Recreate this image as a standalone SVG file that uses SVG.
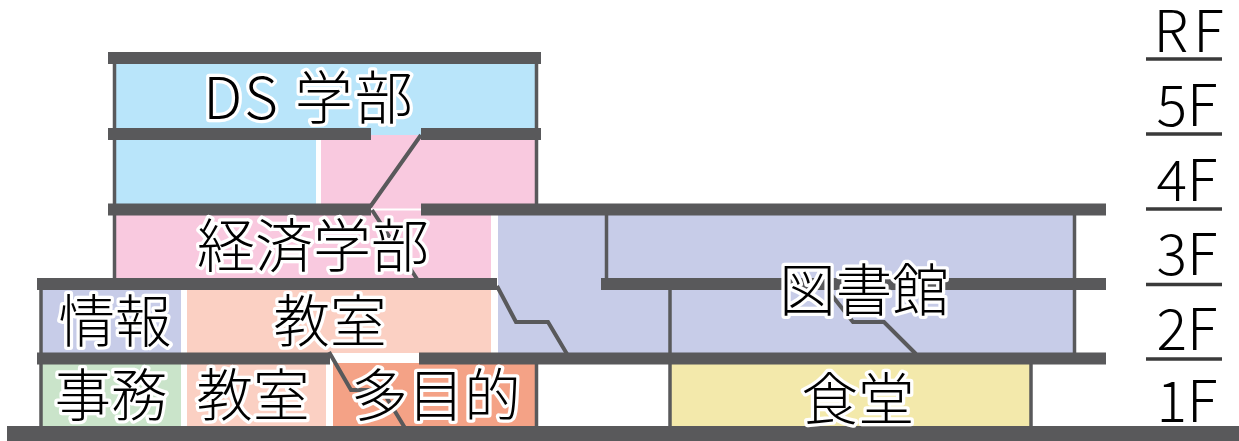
<svg xmlns="http://www.w3.org/2000/svg" width="1239" height="441" viewBox="0 0 1239 441">
<style>
.slab{fill:#59595b}
.wall{stroke:#59595b;stroke-width:3.500;fill:none}
.stair{stroke:#59595b;stroke-width:4;fill:none}
.floorline{stroke:#3a3a3a;stroke-width:3.500}
text{font-family:"Noto Sans CJK JP","Noto Sans",sans-serif;font-weight:300;font-size:56.500px;fill:#000;stroke:#fff;stroke-width:6.500px;stroke-linejoin:round;paint-order:stroke;text-anchor:middle}
.wide{font-size:58px}
.floor{stroke-width:3px;font-size:57px}
</style>
<rect width="1239" height="441" fill="#fff"/>
<g id="rooms">
<rect id="ds5" x="116" y="64" width="419" height="71" fill="#b9e5fa"/>
<rect id="ds4" x="116" y="135" width="200" height="70" fill="#b9e5fa"/>
<rect id="econ4" x="321" y="135" width="214" height="70" fill="#f9c9df"/>
<rect id="econ3" x="116" y="205" width="375" height="73" fill="#f9c9df"/>
<rect x="371" y="208.500" width="50" height="2" fill="#fff"/>
<rect id="lib-l" x="498" y="210" width="576" height="143" fill="#c7cce8"/>
<rect id="info" x="42" y="288" width="139" height="65" fill="#c7cce8"/>
<rect id="class2" x="187" y="288" width="304" height="65" fill="#fbd0c3"/>
<rect id="office" x="42" y="362" width="139" height="64" fill="#cae4ca"/>
<rect id="class1" x="187" y="362" width="139" height="64" fill="#fbd0c3"/>
<rect id="multi" x="333" y="363" width="202" height="63" fill="#f4a286"/>
<rect id="cafe" x="670" y="362" width="360" height="64" fill="#f3e9ab"/>
</g>
<g id="connectors">
<path class="wall" d="M114.500 60V280M536.500 60V206M41 285V428M536.500 360V428M606.500 212V282M670 287V428M1031 360V428M1074.500 212V355"/>
<path class="stair" d="M421 135L370 207M372 210L417 279"/>
<path class="stair" d="M497 286L516 322H548L567 354"/>
<path class="stair" d="M826 288L853 322H884L916 354"/>
<path class="stair" d="M329 352L351 390H382L405 428"/>
<rect class="slab" x="108" y="52" width="433" height="12"/>
<rect class="slab" x="108" y="128" width="263" height="12"/>
<rect class="slab" x="421" y="128" width="120" height="12"/>
<rect class="slab" x="108" y="203.500" width="263" height="12"/>
<rect class="slab" x="421" y="203.500" width="685" height="12"/>
<rect class="slab" x="37" y="278" width="460" height="12"/>
<rect class="slab" x="601" y="278" width="505" height="12"/>
<rect class="slab" x="37" y="352.500" width="293" height="12"/>
<rect class="slab" x="419" y="352.500" width="687" height="12"/>
<rect class="slab" x="7" y="426" width="1232" height="15"/>
<path class="floorline" d="M1146 59H1222M1146 134H1222M1146 209H1222M1146 284.500H1222M1146 359H1222"/>
</g>
<g id="label-ds"><text class="wide" x="309" y="119" letter-spacing="2">DS 学部</text></g>
<g id="label-econ"><text class="wide" x="313" y="267">経済学部</text></g>
<g id="label-info"><text x="115" y="342">情報</text></g>
<g id="label-class2"><text x="330" y="342">教室</text></g>
<g id="label-library"><text x="864" y="311">図書館</text></g>
<g id="label-office"><text x="111" y="416">事務</text></g>
<g id="label-class1"><text x="253" y="416">教室</text></g>
<g id="label-multi"><text x="436" y="416">多目的</text></g>
<g id="label-cafe"><text x="858" y="420">食堂</text></g>
<g id="floors">
<text class="floor" x="1191" y="52" letter-spacing="5">RF</text>
<text class="floor" x="1187" y="126">5F</text>
<text class="floor" x="1187" y="201">4F</text>
<text class="floor" x="1187" y="275">3F</text>
<text class="floor" x="1187" y="350">2F</text>
<text class="floor" x="1187" y="422">1F</text>
</g>
</svg>
